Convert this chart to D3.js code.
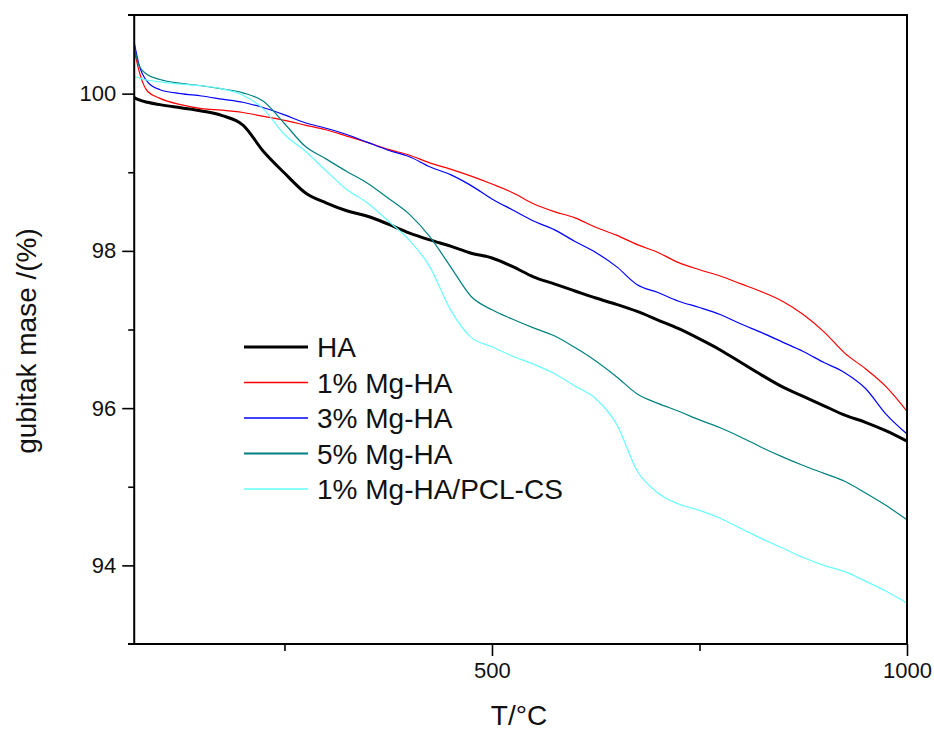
<!DOCTYPE html>
<html>
<head>
<meta charset="utf-8">
<script src="https://cdn.jsdelivr.net/npm/d3@7"></script>
<style>
  html, body { margin: 0; padding: 0; background: #fff; }
  svg { display: block; font-family: "Liberation Sans", Arial, sans-serif; }
</style>
</head>
<body>
<svg id="chart" width="934" height="731"></svg>
<script>
// ---- data ----
const temps = [69,75,85,100,125,150,175,200,225,250,275,300,325,350,375,400,425,450,475,500,525,550,575,600,625,650,675,700,725,750,775,800,825,850,875,900,925,950,975,1000];

const massHA = [99.95,99.92,99.89,99.86,99.82,99.78,99.72,99.60,99.26,98.99,98.74,98.61,98.51,98.44,98.34,98.23,98.14,98.06,97.97,97.91,97.80,97.67,97.58,97.49,97.40,97.32,97.23,97.12,97.01,96.88,96.74,96.58,96.42,96.27,96.15,96.03,95.91,95.82,95.71,95.58];
const mass1Mg = [100.56,100.28,100.03,99.94,99.86,99.81,99.79,99.76,99.71,99.66,99.60,99.54,99.46,99.38,99.29,99.22,99.12,99.04,98.95,98.85,98.74,98.60,98.50,98.42,98.30,98.20,98.08,97.98,97.85,97.76,97.68,97.58,97.48,97.36,97.19,96.97,96.70,96.50,96.27,95.96];
const mass3Mg = [100.65,100.36,100.15,100.05,100.00,99.97,99.93,99.89,99.82,99.73,99.63,99.56,99.48,99.38,99.28,99.20,99.07,98.97,98.83,98.66,98.52,98.38,98.27,98.12,97.98,97.80,97.57,97.47,97.36,97.28,97.19,97.07,96.96,96.84,96.72,96.58,96.45,96.25,95.92,95.67];
const mass5Mg = [100.60,100.35,100.24,100.18,100.13,100.10,100.06,100.01,99.90,99.62,99.33,99.17,99.01,98.86,98.67,98.47,98.18,97.80,97.42,97.25,97.13,97.02,96.92,96.77,96.60,96.40,96.18,96.06,95.96,95.85,95.75,95.63,95.50,95.38,95.27,95.17,95.07,94.92,94.76,94.58];
const massPCL = [100.22,100.20,100.17,100.15,100.12,100.10,100.06,99.98,99.80,99.48,99.27,99.02,98.78,98.61,98.38,98.14,97.80,97.25,96.90,96.78,96.66,96.56,96.44,96.28,96.12,95.80,95.20,94.92,94.78,94.70,94.60,94.47,94.34,94.22,94.10,94.00,93.92,93.80,93.67,93.52];

const seriesNames = ["HA", "1% Mg-HA", "3% Mg-HA", "5% Mg-HA", "1% Mg-HA/PCL-CS"];
const seriesValues = [massHA, mass1Mg, mass3Mg, mass5Mg, massPCL];
const seriesColors = ["#000000", "#ff0000", "#0000ff", "#008080", "#66ffff"];
const seriesWidths = [3, 1.2, 1.2, 1.2, 1.2];

const xMajorTicks = [500, 1000];
const xMinorTicks = [250, 750];
const yMajorTicks = [94, 96, 98, 100];
const yMinorTicks = [95, 97, 99];

const xTitle = "T/°C";
const yTitle = "gubitak mase /(%)";

(function () {
// ---- layout ----
const svg = d3.select("#chart");
const pLeft = 128, pRight = 907, pTop = 15, pBottom = 644;

const x = d3.scaleLinear().domain([61.5, 1000]).range([pLeft, pRight]);
const y = d3.scaleLinear().domain([93, 101]).range([pBottom, pTop]);
const yAxisPos = x(temps[0]);

// data lines
const plot = svg.append("g");
seriesValues.forEach((vals, i) => {
  const pts = temps.map((t, k) => [t, vals[k]]);
  const line = d3.line()
    .x(d => x(d[0]))
    .y(d => y(d[1]))
    .curve(d3.curveMonotoneX);
  plot.append("path")
    .datum(pts)
    .attr("fill", "none")
    .attr("stroke", seriesColors[i])
    .attr("stroke-width", seriesWidths[i])
    .attr("stroke-linejoin", "round")
    .attr("d", line);
});

// frame
const frame = svg.append("g").attr("stroke", "#000").attr("stroke-width", 2).attr("fill", "none");
frame.append("line").attr("x1", pLeft).attr("x2", pRight + 1).attr("y1", pTop).attr("y2", pTop);
frame.append("line").attr("x1", pLeft).attr("x2", pRight + 1).attr("y1", pBottom).attr("y2", pBottom);
frame.append("line").attr("x1", yAxisPos).attr("x2", yAxisPos).attr("y1", pTop).attr("y2", pBottom);
frame.append("line").attr("x1", pRight).attr("x2", pRight).attr("y1", pTop).attr("y2", pBottom);

// x axis
const xAxisMajor = d3.axisBottom(x).tickValues(xMajorTicks).tickSize(12).tickPadding(6).tickFormat(d3.format("d"));
const xAxisMinor = d3.axisBottom(x).tickValues(xMinorTicks).tickSize(7).tickFormat("");
const gx = svg.append("g").attr("transform", `translate(0,${pBottom})`).call(xAxisMajor);
const gx2 = svg.append("g").attr("transform", `translate(0,${pBottom})`).call(xAxisMinor);

// y axis
const yAxisMajor = d3.axisLeft(y).tickValues(yMajorTicks).tickSize(12).tickPadding(6).tickFormat(d3.format("d"));
const yAxisMinor = d3.axisLeft(y).tickValues(yMinorTicks).tickSize(6).tickFormat("");
const gy = svg.append("g").attr("transform", `translate(${yAxisPos},0)`).call(yAxisMajor);
const gy2 = svg.append("g").attr("transform", `translate(${yAxisPos},0)`).call(yAxisMinor);

[gx, gx2, gy, gy2].forEach(g => {
  g.select(".domain").remove();
  g.selectAll(".tick line").attr("stroke", "#000").attr("stroke-width", 1.6);
  g.selectAll(".tick text").attr("fill", "#111").style("font-size", "22px")
    .style("font-family", "'Liberation Sans', Arial, sans-serif");
});

// axis titles
svg.append("text")
  .attr("x", 519).attr("y", 725)
  .attr("text-anchor", "middle")
  .style("font-size", "28px").attr("fill", "#111")
  .text(xTitle);

svg.append("text")
  .attr("transform", `translate(36,341) rotate(-90)`)
  .attr("text-anchor", "middle")
  .style("font-size", "28px").attr("fill", "#111")
  .text(yTitle);

// legend
const legend = svg.append("g");
const legY0 = 347, legDy = 35.5;
seriesNames.forEach((name, i) => {
  const yy = legY0 + i * legDy;
  legend.append("line")
    .attr("x1", 244).attr("x2", 308).attr("y1", yy).attr("y2", yy)
    .attr("stroke", seriesColors[i])
    .attr("stroke-width", i === 0 ? 3 : (i === 3 ? 2 : 1.5));
  legend.append("text")
    .attr("x", 317).attr("y", yy + 10)
    .style("font-size", "28px").attr("fill", "#111")
    .text(name);
});
})();
</script>
</body>
</html>
